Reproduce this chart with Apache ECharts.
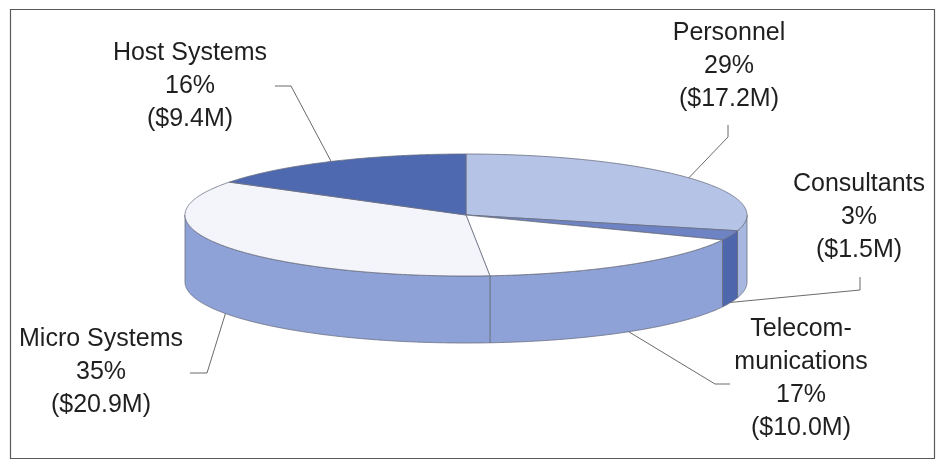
<!DOCTYPE html>
<html>
<head>
<meta charset="utf-8">
<script src="https://cdn.jsdelivr.net/npm/echarts@6/dist/echarts.min.js"></script>
<style>html,body{margin:0;padding:0;background:#fff}#c{width:940px;height:464px}</style>
</head>
<body>
<div id="c"></div>
<script>
// ---- data ----
const categories = ['Personnel', 'Consultants', 'Telecommunications', 'Micro Systems', 'Host Systems'];
const nameLines = [['Personnel'], ['Consultants'], ['Telecom-', 'munications'], ['Micro Systems'], ['Host Systems']];
const values = [17.2, 1.5, 10.0, 20.9, 9.4];           // $M
const percentLabels = ['29%', '3%', '17%', '35%', '16%'];
const amountLabels = ['($17.2M)', '($1.5M)', '($10.0M)', '($20.9M)', '($9.4M)'];

// ---- styles / layout ----
const topColors = ['#b4c3e6', '#6e83c3', '#ffffff', '#f3f5fb', '#4f69b0'];
const sideColors = ['#a7b8e0', '#4e66ab', '#8ea2d7', '#8ea2d7', '#4f69b0'];
const geo = { cx: 466, cy: 215, rx: 281, ry: 61, depth: 67, startAngle: -90 };
const labelLayout = [
  { x: 729, top: 17, edge: 'top',    elbow: [728, 137], end: [728, 125] },
  { x: 859, top: 168, edge: 'bottom', elbow: [860, 290], end: [860, 277] },
  { x: 801, top: 313, edge: 'bottom', elbow: [715, 384], end: [730, 384] },
  { x: 101, top: 323, edge: 'bottom', elbow: [207, 373], end: [190, 373] },
  { x: 190, top: 37, edge: 'top',    elbow: [291, 86],  end: [275, 86] }
];
const FONT = '25px "Liberation Sans", Arial, sans-serif';

const total = values.reduce((a, b) => a + b, 0);
const starts = [];
values.reduce((acc, v) => { starts.push(acc); return acc + v / total * 360; }, geo.startAngle);

function pt(a, dy) {
  const r = a * Math.PI / 180;
  return [geo.cx + geo.rx * Math.cos(r), geo.cy + geo.ry * Math.sin(r) + (dy || 0)];
}
function arc(a0, a1, dy) {
  const n = Math.max(2, Math.ceil(Math.abs(a1 - a0) / 0.5));
  const out = [];
  for (let k = 0; k <= n; k++) out.push(pt(a0 + (a1 - a0) * k / n, dy));
  return out;
}

function renderItem(params, api) {
  const i = params.dataIndex;
  const a0 = starts[i];
  const a1 = a0 + values[i] / total * 360;
  const children = [];
  // side face (front half only)
  const s = Math.max(a0, 0), e = Math.min(a1, 180);
  if (e > s) {
    const pts = arc(s, e, 0).concat(arc(e, s, geo.depth));
    children.push({
      type: 'polygon', z2: 1,
      shape: { points: pts },
      style: { fill: sideColors[i], stroke: '#6a6f80', lineWidth: 0.8 }
    });
  }
  // top face
  children.push({
    type: 'polygon', z2: 5,
    shape: { points: [[geo.cx, geo.cy]].concat(arc(a0, a1, 0)) },
    style: { fill: topColors[i], stroke: '#6a6f80', lineWidth: 0.8 }
  });
  // leader line
  const L = labelLayout[i];
  const mid = (a0 + a1) / 2;
  const anchor = pt(mid, L.edge === 'bottom' ? geo.depth : 0);
  children.push({
    type: 'polyline', z2: 8,
    shape: { points: [anchor, L.elbow, L.end] },
    style: { stroke: '#6b6b6b', lineWidth: 1, fill: null }
  });
  // label
  children.push({
    type: 'text', z2: 10,
    style: {
      text: nameLines[i].concat([percentLabels[i], amountLabels[i]]).join('\n'),
      x: L.x, y: L.top, align: 'center', verticalAlign: 'top',
      font: FONT, lineHeight: 33, fill: '#1f1f1f'
    }
  });
  return { type: 'group', children: children };
}

const chart = echarts.init(document.getElementById('c'), null, { renderer: 'canvas' });
chart.setOption({
  animation: false,
  backgroundColor: '#ffffff',
  graphic: [{
    type: 'rect', z: 0,
    shape: { x: 10.5, y: 9.5, width: 924, height: 449 },
    style: { fill: 'none', stroke: '#5a5a5a', lineWidth: 1.2 }
  }],
  series: [{
    type: 'custom',
    name: 'Budget',
    coordinateSystem: 'none',
    data: values.map((v, i) => ({ name: categories[i], value: [v] })),
    renderItem: renderItem
  }]
});
</script>
</body>
</html>
